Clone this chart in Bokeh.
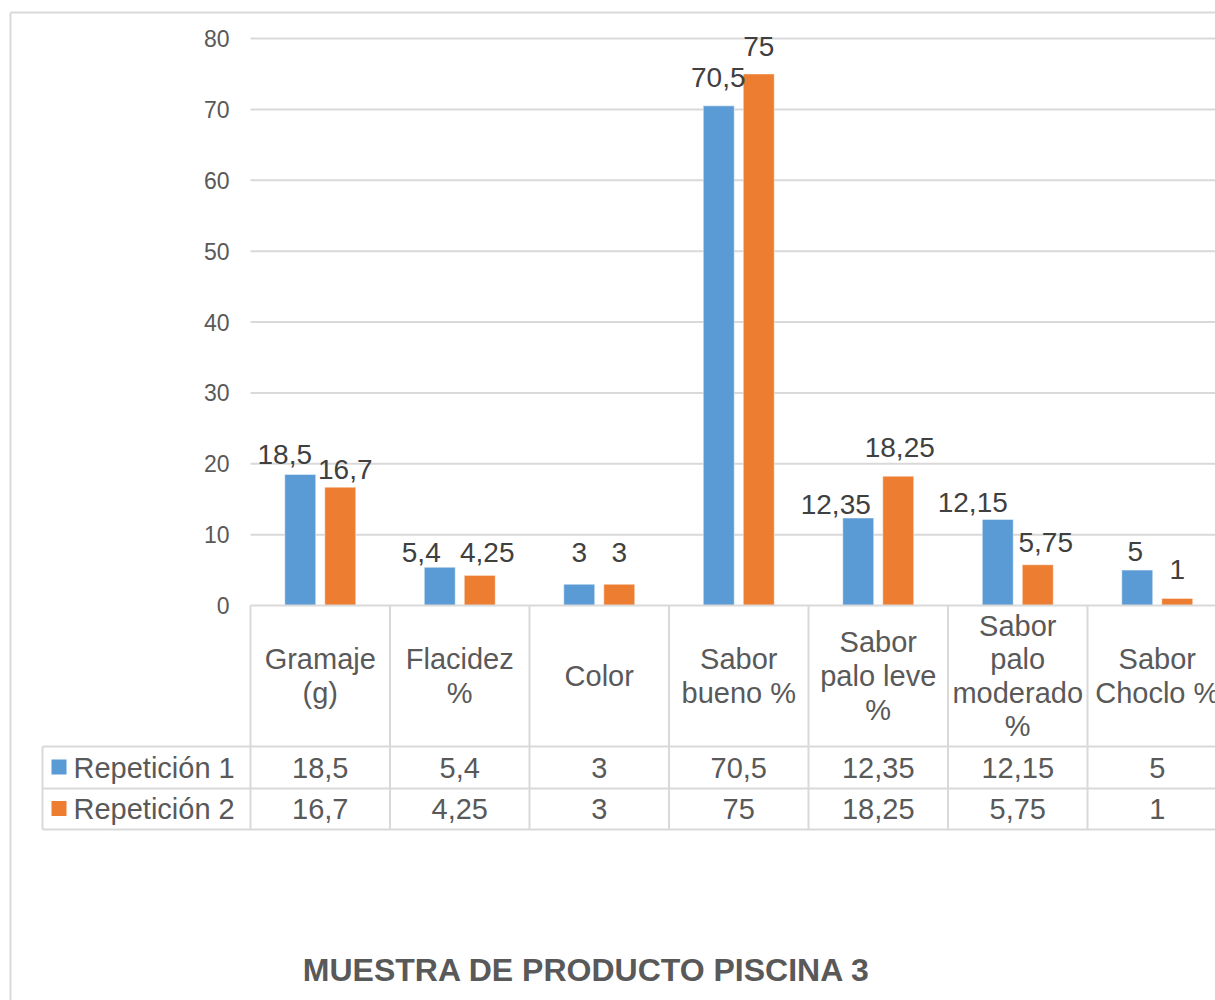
from bokeh.plotting import figure
from bokeh.models import ColumnDataSource, Range1d, LinearAxis, FixedTicker
from bokeh.core.properties import value
from bokeh.embed import file_html
from bokeh.resources import INLINE

# ---- data -------------------------------------------------------------
categories = [
    "Gramaje\n(g)",
    "Flacidez\n%",
    "Color",
    "Sabor\nbueno %",
    "Sabor\npalo leve\n%",
    "Sabor\npalo\nmoderado\n%",
    "Sabor\nChoclo %",
]
series_names = ["Repetición 1", "Repetición 2"]
rep1 = [18.5, 5.4, 3, 70.5, 12.35, 12.15, 5]
rep2 = [16.7, 4.25, 3, 75, 18.25, 5.75, 1]
y_ticks = [0, 10, 20, 30, 40, 50, 60, 70, 80]
title_text = "MUESTRA DE PRODUCTO PISCINA 3"

# ---- styling ----------------------------------------------------------
BLUE = "#5B9BD5"
ORANGE = "#ED7D31"
LINE = "#d9d9d9"
TEXT = "#595959"
LABEL = "#404040"
FONT = value("Liberation Sans")

# layout geometry (pixels per category / per value unit, origin of plot area)
PPX = 139.5
PPY = 567 / 80
X0, Y0 = 250, 605
W, H = 1215, 1000


def px_x(px):
    return (px - X0) / PPX


def px_y(py):
    return (Y0 - py) / PPY


# label nudges (px) so neighbouring value labels do not collide
nudge1_dx = [-15.5, -18.5, 0, -0.5, -22.5, -25, -2]
nudge1_up = [9, 3.7, 20.7, 17, 2.5, 6, 7.6]
nudge2_dx = [5, 7.5, 0, 0, 1.5, 8, 0]
nudge2_up = [6.6, 12, 20.7, 16, 17.7, 11, 18]
LIFT = 11  # baseline correction for the svg text renderer


def fmt(v):
    return f"{v:g}".replace(".", ",")


p = figure(
    width=W, height=H,
    x_range=Range1d(px_x(0), px_x(W)),
    y_range=Range1d(px_y(H), px_y(0)),
    x_axis_type=None, y_axis_type=None,
    output_backend="svg", toolbar_location=None,
    min_border=0, outline_line_color=None,
)
p.xgrid.visible = False
p.ygrid.visible = False
p.background_fill_color = "white"

n = len(categories)
idx = list(range(n))
off = 20 / PPX
bw = 31 / PPX

# chart-area border (top and left edges)
p.segment(x0=[px_x(10), px_x(10)], y0=[px_y(12), px_y(12)],
          x1=[px_x(W + 5), px_x(10)], y1=[px_y(12), px_y(H + 5)],
          line_color=LINE, line_width=2)

# horizontal gridlines
grid_y = [t for t in y_ticks if t > 0]
p.segment(x0=[0] * len(grid_y), x1=[px_x(W + 5)] * len(grid_y),
          y0=grid_y, y1=grid_y, line_color=LINE, line_width=2)

# y axis placed at the left edge of the plot area
yaxis = LinearAxis(
    fixed_location=0,
    ticker=FixedTicker(ticks=y_ticks),
    axis_line_color=None,
    major_tick_line_color=None,
    minor_tick_line_color=None,
    major_tick_out=0,
    major_label_standoff=21,
    major_label_text_font_size="23px",
    major_label_text_color=TEXT,
    major_label_text_font="Liberation Sans",
)
p.add_layout(yaxis, "left")

# bars
src = ColumnDataSource(dict(
    x1=[i + 0.5 - off for i in idx],
    x2=[i + 0.5 + off for i in idx],
    r1=rep1, r2=rep2,
))
p.vbar(x="x1", top="r1", bottom=0, width=bw, source=src,
       fill_color=BLUE, line_color="white", line_width=0.5)
p.vbar(x="x2", top="r2", bottom=0, width=bw, source=src,
       fill_color=ORANGE, line_color="white", line_width=0.5)

# value labels above the bars
lab = ColumnDataSource(dict(
    x=[i + 0.5 - off + d / PPX for i, d in zip(idx, nudge1_dx)]
      + [i + 0.5 + off + d / PPX for i, d in zip(idx, nudge2_dx)],
    y=[v + (u + LIFT) / PPY for v, u in zip(rep1, nudge1_up)]
      + [v + (u + LIFT) / PPY for v, u in zip(rep2, nudge2_up)],
    t=[fmt(v) for v in rep1] + [fmt(v) for v in rep2],
))
p.text(x="x", y="y", text="t", source=lab, text_font=FONT,
       text_font_size="28px", text_color=LABEL,
       text_align="center", text_baseline="alphabetic")

# ---- data table ------------------------------------------------------
row_lines = [746, 788, 829]
p.segment(x0=[0], x1=[px_x(W + 5)], y0=[0], y1=[0],
          line_color=LINE, line_width=2)
p.segment(x0=[px_x(42)] * 3, x1=[px_x(W + 5)] * 3,
          y0=[px_y(r) for r in row_lines], y1=[px_y(r) for r in row_lines],
          line_color=LINE, line_width=2)
vx = [px_x(42)] + [float(i) for i in range(n + 1)]
vy0 = [px_y(746)] + [0.0] * (n + 1)
p.segment(x0=vx, x1=vx, y0=vy0, y1=[px_y(829)] * len(vx),
          line_color=LINE, line_width=2)

# category headers
p.text(x=[i + 0.5 for i in idx], y=[px_y(675.5)] * n, text=categories,
       text_font=FONT, text_font_size="29px", text_color=TEXT,
       text_align="center", text_baseline="middle", text_line_height=1.05)

# table values
p.text(x=[i + 0.5 for i in idx], y=[px_y(767)] * n, text=[fmt(v) for v in rep1],
       text_font=FONT, text_font_size="29px", text_color=TEXT,
       text_align="center", text_baseline="middle")
p.text(x=[i + 0.5 for i in idx], y=[px_y(808.5)] * n, text=[fmt(v) for v in rep2],
       text_font=FONT, text_font_size="29px", text_color=TEXT,
       text_align="center", text_baseline="middle")

# legend keys inside the table
p.scatter(x=[px_x(58.5)] * 2, y=[px_y(766.5), px_y(808)], marker="square",
          size=15, fill_color=[BLUE, ORANGE], line_color=None)
p.text(x=[px_x(73)] * 2, y=[px_y(767), px_y(808.5)], text=series_names,
       text_font=FONT, text_font_size="29px", text_color=TEXT,
       text_align="left", text_baseline="middle")

# chart title
p.text(x=[px_x(586.5)], y=[px_y(969)], text=[title_text],
       text_font=FONT, text_font_size="32px", text_font_style="bold",
       text_color=TEXT, text_align="center", text_baseline="alphabetic")

open("out.html", "w").write(file_html(p, INLINE))
